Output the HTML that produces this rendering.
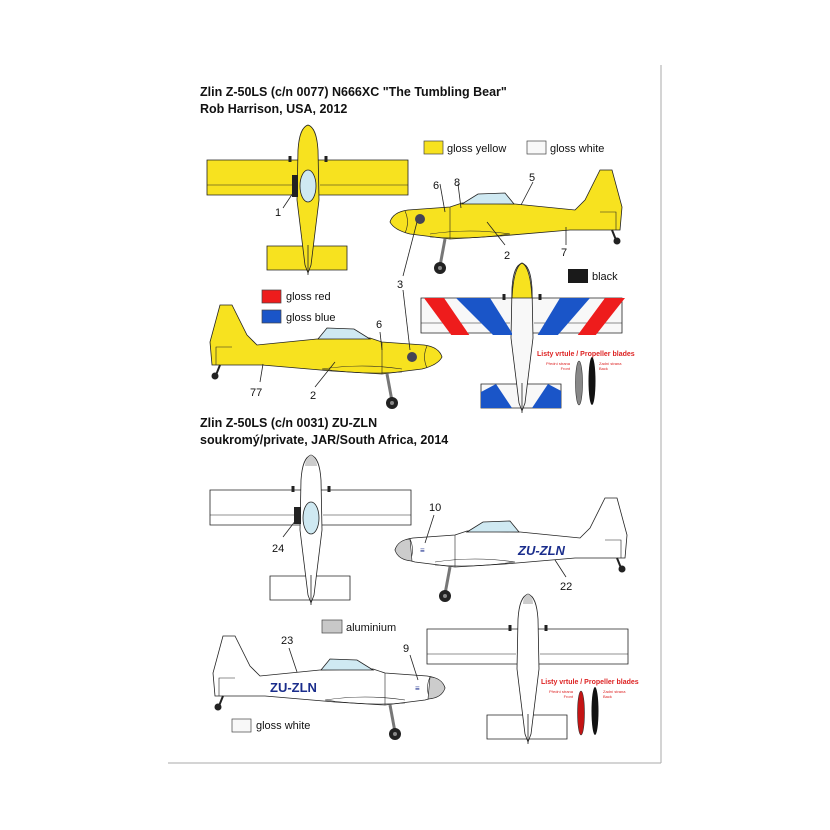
<!DOCTYPE html>
<html><head><meta charset="utf-8"><style>
html,body{margin:0;padding:0;background:#fff;}
svg{display:block;}
text{font-family:"Liberation Sans",sans-serif;}
</style></head><body>
<svg width="830" height="830" viewBox="0 0 830 830" xmlns="http://www.w3.org/2000/svg">
<defs>
<g id="side">
 <path d="M0,0 Q3,-10 18,-12 L60,-15 L72,-19 L125,-18 L185,-12 L195,-22 L210,-52 L222,-52 L232,-15 L230,8 L180,8 L110,14 L60,17 L20,12 Q4,8 0,0Z" stroke="#222" stroke-width="0.8"/>
 <path d="M72,-18 L88,-28 L115,-29 L124,-18 Z" fill="#cfe9f2" stroke="#222" stroke-width="0.8"/>
 <path d="M15,-11 Q20,0 15,11" fill="none" stroke="#222" stroke-width="0.6"/>
 <path d="M60,-15 L60,17" fill="none" stroke="#222" stroke-width="0.6"/>
 <path d="M40,12 Q80,6 120,12 Q80,18 40,15" fill="none" stroke="#222" stroke-width="0.6"/>
 <path d="M210,-10 L226,-10 L226,8" fill="none" stroke="#222" stroke-width="0.6"/>
 <line x1="55" y1="17" x2="50" y2="44" stroke="#777" stroke-width="3"/>
 <circle cx="50" cy="46" r="6" fill="#222"/><circle cx="50" cy="46" r="2" fill="#888"/>
 <path d="M222,8 L226,18" stroke="#222" stroke-width="2"/>
 <circle cx="227" cy="19" r="3.5" fill="#222"/>
</g>
<g id="top">
 <path d="M-101,35 L100,35 L100,70 L-101,70 Z" stroke="#222" stroke-width="0.8"/>
 <path d="M-101,60 L-12,60 M12,60 L100,60" stroke="#222" stroke-width="0.6" fill="none"/>
 <path d="M-41,121 L39,121 L39,145 L-41,145 Z" stroke="#222" stroke-width="0.8"/>
 <path d="M0,0 C-6,2 -9,10 -10,25 L-11,75 L-3,140 L0,148 L3,140 L11,75 L10,25 C9,10 6,2 0,0 Z" stroke="#222" stroke-width="0.8"/>
 <path d="M-18,31 L-18,37 M18,31 L18,37" stroke="#222" stroke-width="3"/>
 <line x1="0" y1="120" x2="0" y2="150" stroke="#222" stroke-width="0.8"/>
</g>
<clipPath id="lw"><rect x="424" y="298" width="88" height="37"/></clipPath>
<clipPath id="rw"><rect x="535" y="298" width="90" height="37"/></clipPath>
<clipPath id="ht"><rect x="481" y="384" width="80" height="24"/></clipPath>
</defs>
<rect x="0" y="0" width="830" height="830" fill="#fff"/>
<line x1="661" y1="65" x2="661" y2="763" stroke="#aaa" stroke-width="1"/>
<line x1="168" y1="763" x2="661" y2="763" stroke="#aaa" stroke-width="1"/>

<text x="200" y="96" font-size="12.5" font-weight="bold" fill="#111">Zlin Z-50LS (c/n 0077) N666XC "The Tumbling Bear"</text>
<text x="200" y="113" font-size="12.5" font-weight="bold" fill="#111">Rob Harrison, USA, 2012</text>

<g transform="translate(308,125)" fill="#f7e21f"><use href="#top"/></g>
<ellipse cx="308" cy="186" rx="8" ry="16" fill="#cfe9f2" stroke="#222" stroke-width="0.8"/>
<rect x="292" y="175" width="6" height="22" fill="#222"/>
<line x1="295" y1="190" x2="283" y2="208" stroke="#222" stroke-width="0.8"/>
<text x="275" y="216" font-size="11" fill="#111">1</text>

<rect x="424" y="141" width="19" height="13" fill="#f7e21f" stroke="#444" stroke-width="0.7"/>
<text x="447" y="152" font-size="11" fill="#111">gloss yellow</text>
<rect x="527" y="141" width="19" height="13" fill="#f8f8f8" stroke="#444" stroke-width="0.7"/>
<text x="550" y="152" font-size="11" fill="#111">gloss white</text>
<rect x="568" y="269" width="20" height="14" fill="#1a1a1a"/>
<text x="592" y="280" font-size="11" fill="#111">black</text>
<rect x="262" y="290" width="19" height="13" fill="#ee1c1c" stroke="#444" stroke-width="0.7"/>
<text x="286" y="300" font-size="11" fill="#111">gloss red</text>
<rect x="262" y="310" width="19" height="13" fill="#1a55c8" stroke="#444" stroke-width="0.7"/>
<text x="286" y="321" font-size="11" fill="#111">gloss blue</text>

<g transform="translate(390,222)" fill="#f7e21f"><use href="#side"/></g>
<circle cx="420" cy="219" r="5" fill="#445"/>
<g stroke="#222" stroke-width="0.8" fill="none">
<line x1="440" y1="184" x2="445" y2="212"/><line x1="458" y1="184" x2="461" y2="208"/><line x1="533" y1="182" x2="521" y2="205"/>
<line x1="487" y1="222" x2="505" y2="245"/><line x1="566" y1="227" x2="566" y2="245"/><line x1="417" y1="222" x2="403" y2="276"/>
</g>
<text x="433" y="189" font-size="11" fill="#111">6</text>
<text x="454" y="186" font-size="11" fill="#111">8</text>
<text x="529" y="181" font-size="11" fill="#111">5</text>
<text x="504" y="259" font-size="11" fill="#111">2</text>
<text x="561" y="256" font-size="11" fill="#111">7</text>
<text x="397" y="288" font-size="11" fill="#111">3</text>

<g transform="translate(442,357) scale(-1,1)" fill="#f7e21f"><use href="#side"/></g>
<circle cx="412" cy="357" r="5" fill="#445"/>
<g stroke="#222" stroke-width="0.8" fill="none">
<line x1="380" y1="332" x2="382" y2="350"/><line x1="263" y1="364" x2="260" y2="382"/><line x1="335" y1="362" x2="315" y2="387"/><line x1="403" y1="290" x2="410" y2="350"/>
</g>
<text x="376" y="328" font-size="11" fill="#111">6</text>
<text x="250" y="396" font-size="11" fill="#111">77</text>
<text x="310" y="399" font-size="11" fill="#111">2</text>

<g transform="translate(522,263)" fill="#f8f8f8"><use href="#top"/></g>
<g clip-path="url(#lw)">
<path d="M424,298 L444,298 L470,336 L452,336Z" fill="#ee1c1c"/>
<path d="M456,298 L490,298 L514,336 L494,336Z" fill="#1a55c8"/>
</g>
<g clip-path="url(#rw)">
<path d="M625,298 L605,298 L577,336 L595,336Z" fill="#ee1c1c"/>
<path d="M590,298 L560,298 L537,336 L557,336Z" fill="#1a55c8"/>
</g>
<g clip-path="url(#ht)">
<path d="M481,392 L496,384 L512,408 L481,408Z" fill="#1a55c8"/>
<path d="M563,392 L548,384 L532,408 L563,408Z" fill="#1a55c8"/>
</g>
<path d="M522,263 C516,266 513,278 512,298 L532,298 C531,278 528,266 522,263Z" fill="#f7e21f" stroke="#222" stroke-width="0.8"/>
<text x="537" y="356" font-size="7" font-weight="bold" fill="#d22">Listy vrtule / Propeller blades</text>
<text x="570" y="365" font-size="4" fill="#d22" text-anchor="end">Přední strana</text>
<text x="570" y="370" font-size="4" fill="#d22" text-anchor="end">Front</text>
<text x="599" y="365" font-size="4" fill="#d22">Zadní strana</text>
<text x="599" y="370" font-size="4" fill="#d22">Back</text>
<ellipse cx="579" cy="383" rx="3.5" ry="22" fill="#888" stroke="#333" stroke-width="0.6"/>
<ellipse cx="592" cy="381" rx="3.5" ry="24" fill="#111"/>

<text x="200" y="427" font-size="12.5" font-weight="bold" fill="#111">Zlin Z-50LS (c/n 0031) ZU-ZLN</text>
<text x="200" y="444" font-size="12.5" font-weight="bold" fill="#111">soukromý/private, JAR/South Africa, 2014</text>

<g transform="translate(311,455)" fill="#fff"><use href="#top"/></g>
<path d="M311,455 C307,457 305,462 305,466 L317,466 C317,462 315,457 311,455Z" fill="#ccc"/>
<ellipse cx="311" cy="518" rx="8" ry="16" fill="#cfe9f2" stroke="#222" stroke-width="0.8"/>
<rect x="294" y="507" width="7" height="17" fill="#222"/>
<line x1="296" y1="520" x2="283" y2="537" stroke="#222" stroke-width="0.8"/>
<text x="272" y="552" font-size="11" fill="#111">24</text>

<g transform="translate(395,550)" fill="#fff"><use href="#side"/></g>
<path d="M395,550 Q398,540 410,539 L412,561 Q398,560 395,550Z" fill="#ccc" stroke="#222" stroke-width="0.6"/>
<text x="420" y="553" font-size="8" font-style="italic" font-weight="bold" fill="#1a2d8c">≡</text>
<text x="518" y="555" font-size="13" font-style="italic" font-weight="bold" fill="#1a2d8c">ZU-ZLN</text>
<g stroke="#222" stroke-width="0.8" fill="none"><line x1="434" y1="515" x2="425" y2="543"/><line x1="555" y1="560" x2="566" y2="577"/></g>
<text x="429" y="511" font-size="11" fill="#111">10</text>
<text x="560" y="590" font-size="11" fill="#111">22</text>

<rect x="322" y="620" width="20" height="13" fill="#c8c8c8" stroke="#444" stroke-width="0.7"/>
<text x="346" y="631" font-size="11" fill="#111">aluminium</text>

<g transform="translate(445,688) scale(-1,1)" fill="#fff"><use href="#side"/></g>
<path d="M445,688 Q442,678 430,677 L428,699 Q442,698 445,688Z" fill="#ccc" stroke="#222" stroke-width="0.6"/>
<text x="270" y="692" font-size="13" font-weight="bold" fill="#1a2d8c">ZU-ZLN</text>
<text x="415" y="691" font-size="8" font-weight="bold" fill="#1a2d8c">≡</text>
<g stroke="#222" stroke-width="0.8" fill="none"><line x1="289" y1="648" x2="297" y2="672"/><line x1="410" y1="655" x2="418" y2="680"/></g>
<text x="281" y="644" font-size="11" fill="#111">23</text>
<text x="403" y="652" font-size="11" fill="#111">9</text>
<rect x="232" y="719" width="19" height="13" fill="#f8f8f8" stroke="#444" stroke-width="0.7"/>
<text x="256" y="729" font-size="11" fill="#111">gloss white</text>

<g transform="translate(528,594)" fill="#fff"><use href="#top"/></g>
<path d="M528,594 C524,596 523,600 523,604 L533,604 C533,600 532,596 528,594Z" fill="#ccc"/>
<text x="541" y="684" font-size="7" font-weight="bold" fill="#d22">Listy vrtule / Propeller blades</text>
<text x="573" y="693" font-size="4" fill="#d22" text-anchor="end">Přední strana</text>
<text x="573" y="698" font-size="4" fill="#d22" text-anchor="end">Front</text>
<text x="603" y="693" font-size="4" fill="#d22">Zadní strana</text>
<text x="603" y="698" font-size="4" fill="#d22">Back</text>
<ellipse cx="581" cy="713" rx="3.5" ry="22" fill="#c41414" stroke="#333" stroke-width="0.6"/>
<ellipse cx="595" cy="711" rx="3.5" ry="24" fill="#111"/>
</svg>
</body></html>
